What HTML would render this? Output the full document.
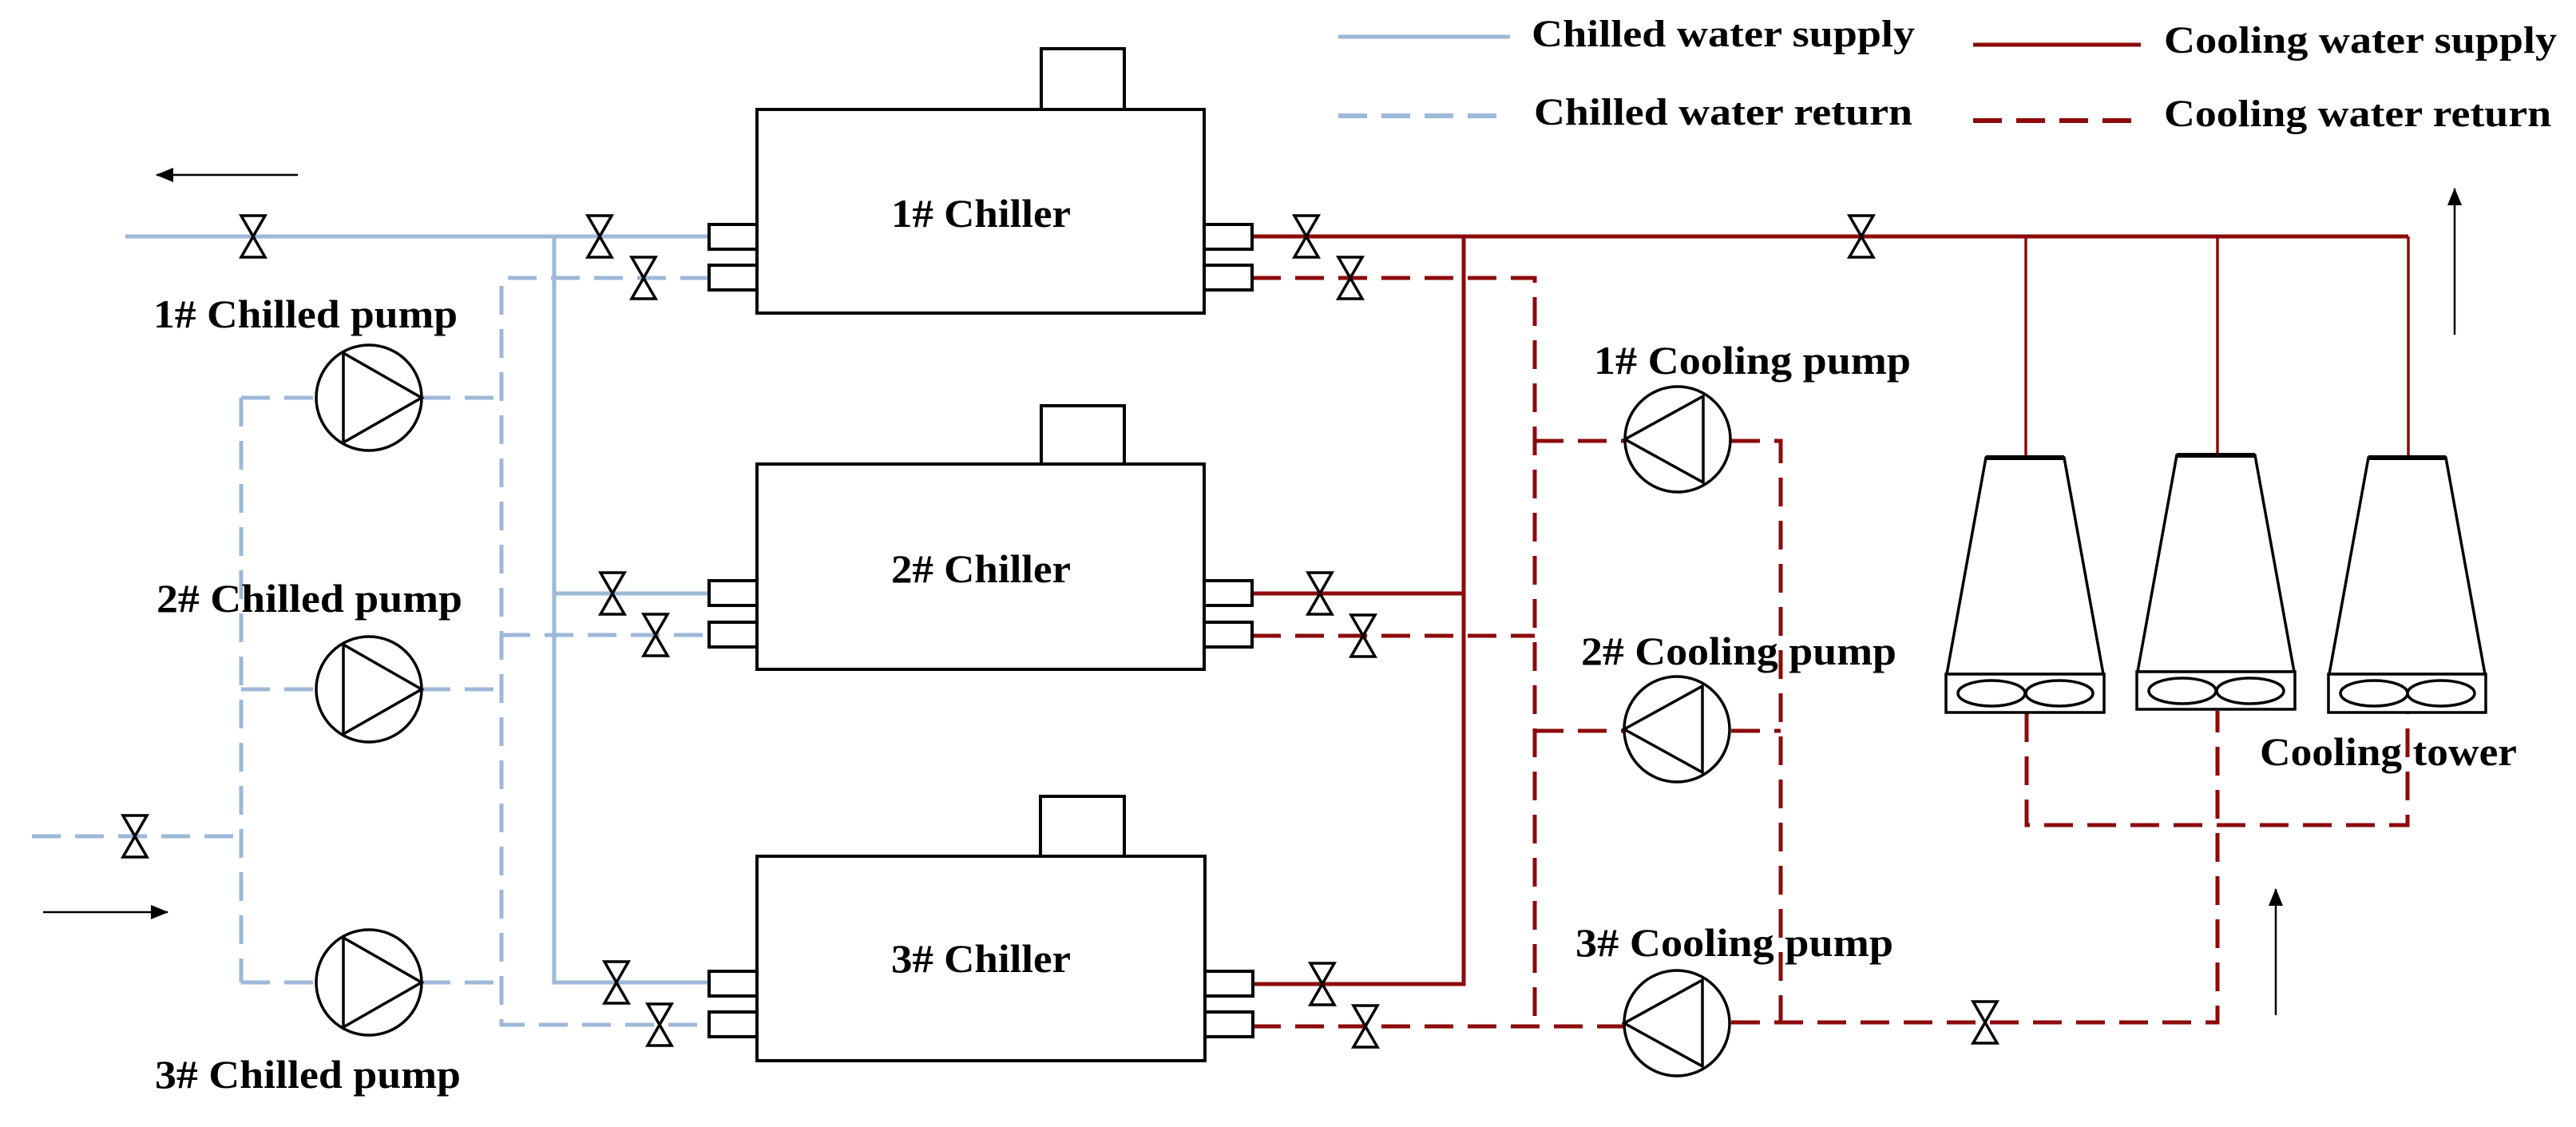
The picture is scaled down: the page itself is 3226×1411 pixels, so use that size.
<!DOCTYPE html>
<html><head><meta charset="utf-8"><style>
html,body{margin:0;padding:0;background:#fff;}
svg{display:block;}
text{font-family:"Liberation Serif",serif;font-weight:bold;fill:#000;}
</style></head><body>
<svg width="3226" height="1411" viewBox="0 0 3226 1411" xmlns="http://www.w3.org/2000/svg">
<defs>
<g id="valve"><path d="M-15,-26 L15,-26 L-15,26 L15,26 Z" fill="#fff" stroke="#000" stroke-width="3.5" stroke-linejoin="miter"/></g>
<marker id="ah" markerWidth="22" markerHeight="18" refX="21" refY="9" orient="auto" markerUnits="userSpaceOnUse"><path d="M0,0 L22,9 L0,18Z" fill="#000"/></marker>
</defs>
<rect width="3226" height="1411" fill="#fff"/>

<!-- Legend -->
<line x1="1676" y1="46" x2="1891" y2="46" stroke="#9db8d8" stroke-width="5"/>
<text x="1918" y="58" font-size="48" textLength="480" lengthAdjust="spacingAndGlyphs">Chilled water supply</text>
<line x1="1676" y1="145" x2="1891" y2="145" stroke="#9db8d8" stroke-width="6" stroke-dasharray="36 18"/>
<text x="1921" y="156" font-size="48" textLength="474" lengthAdjust="spacingAndGlyphs">Chilled water return</text>
<line x1="2471" y1="56" x2="2681" y2="56" stroke="#8c0a0a" stroke-width="5"/>
<text x="2710" y="66" font-size="48" textLength="492" lengthAdjust="spacingAndGlyphs">Cooling water supply</text>
<line x1="2471" y1="151" x2="2681" y2="151" stroke="#8c0a0a" stroke-width="6" stroke-dasharray="36 18"/>
<text x="2710" y="158" font-size="48" textLength="485" lengthAdjust="spacingAndGlyphs">Cooling water return</text>

<!-- Arrows -->
<line x1="373" y1="219" x2="196" y2="219" stroke="#000" stroke-width="2.5" marker-end="url(#ah)"/>
<line x1="54" y1="1142" x2="210" y2="1142" stroke="#000" stroke-width="2.5" marker-end="url(#ah)"/>
<line x1="3074" y1="419" x2="3074" y2="236" stroke="#000" stroke-width="2.5" marker-end="url(#ah)"/>
<line x1="2850" y1="1271" x2="2850" y2="1113" stroke="#000" stroke-width="2.5" marker-end="url(#ah)"/>

<!-- Chilled water supply (solid blue) -->
<g stroke="#9db8d8" stroke-width="5" fill="none">
<line x1="157" y1="296" x2="888" y2="296"/>
<polyline points="694,296 694,1230 888,1230"/>
<line x1="694" y1="743" x2="888" y2="743"/>
</g>
<!-- Chilled water return (dashed blue) -->
<g stroke="#9db8d8" stroke-width="5" fill="none" stroke-dasharray="36 18">
<polyline points="888,348 628,348 628,1283 888,1283"/>
<line x1="628" y1="795" x2="888" y2="795"/>
<line x1="302" y1="498" x2="302" y2="1230"/>
<line x1="302" y1="498" x2="396" y2="498"/><line x1="528" y1="498" x2="628" y2="498"/>
<line x1="302" y1="863" x2="396" y2="863"/><line x1="528" y1="863" x2="628" y2="863"/>
<line x1="302" y1="1230" x2="396" y2="1230"/><line x1="528" y1="1230" x2="628" y2="1230"/>
<line x1="40" y1="1047" x2="302" y2="1047"/>
</g>

<!-- Cooling water supply (solid red) -->
<g stroke="#8c0a0a" stroke-width="5" fill="none">
<line x1="1568" y1="296" x2="3016" y2="296"/>
<polyline points="1833,296 1833,1232 1568,1232"/>
<line x1="1568" y1="743" x2="1833" y2="743"/>
</g>
<g stroke="#8c0a0a" stroke-width="3.5" fill="none">
<line x1="2537" y1="296" x2="2537" y2="573"/>
<line x1="2777" y1="296" x2="2777" y2="570"/>
<line x1="3016" y1="296" x2="3016" y2="573"/>
</g>
<!-- Cooling water return (dashed red) -->
<g stroke="#8c0a0a" stroke-width="5" fill="none" stroke-dasharray="36 18">
<polyline points="1568,348 1922,348 1922,1285"/>
<line x1="1568" y1="796" x2="1922" y2="796"/>
<line x1="1568" y1="1285" x2="2034" y2="1285"/>
<line x1="1922" y1="552" x2="2034" y2="552"/><polyline points="2168,552 2230,552 2230,1280"/>
<line x1="1922" y1="915" x2="2034" y2="915"/><line x1="2168" y1="915" x2="2230" y2="915"/>
<polyline points="2168,1280 2777,1280 2777,890"/>
<polyline points="2538,893 2538,1033 3015,1033 3015,893"/>
</g>

<!-- Chillers -->
<g fill="#fff" stroke="#000" stroke-width="4">
<rect x="1304" y="61" width="104" height="76"/>
<rect x="948" y="137" width="560" height="255"/>
<rect x="888" y="281" width="60" height="31"/><rect x="888" y="332" width="60" height="31"/>
<rect x="1508" y="281" width="60" height="31"/><rect x="1508" y="332" width="60" height="31"/>

<rect x="1304" y="508" width="104" height="73"/>
<rect x="948" y="581" width="560" height="257"/>
<rect x="888" y="727" width="60" height="31"/><rect x="888" y="779" width="60" height="31"/>
<rect x="1508" y="727" width="60" height="31"/><rect x="1508" y="779" width="60" height="31"/>

<rect x="1303" y="997" width="105" height="75"/>
<rect x="948" y="1072" width="561" height="256"/>
<rect x="888" y="1216" width="60" height="31"/><rect x="888" y="1267" width="60" height="31"/>
<rect x="1509" y="1216" width="60" height="31"/><rect x="1509" y="1267" width="60" height="31"/>
</g>
<text x="1116" y="284" font-size="50" textLength="225" lengthAdjust="spacingAndGlyphs">1# Chiller</text>
<text x="1116" y="729" font-size="50" textLength="225" lengthAdjust="spacingAndGlyphs">2# Chiller</text>
<text x="1116" y="1217" font-size="50" textLength="225" lengthAdjust="spacingAndGlyphs">3# Chiller</text>

<!-- Valves -->
<use href="#valve" x="317" y="296"/>
<use href="#valve" x="751" y="296"/>
<use href="#valve" x="806" y="348"/>
<use href="#valve" x="767" y="743"/>
<use href="#valve" x="821" y="795"/>
<use href="#valve" x="772" y="1230"/>
<use href="#valve" x="826" y="1283"/>
<use href="#valve" x="169" y="1047"/>
<use href="#valve" x="1636" y="296"/>
<use href="#valve" x="1691" y="348"/>
<use href="#valve" x="2331" y="296"/>
<use href="#valve" x="1653" y="743"/>
<use href="#valve" x="1707" y="796"/>
<use href="#valve" x="1656" y="1232"/>
<use href="#valve" x="1710" y="1285"/>
<use href="#valve" x="2486" y="1280"/>

<!-- Chilled pumps -->
<g fill="none" stroke="#000" stroke-width="3.5">
<circle cx="462" cy="498" r="66"/><path d="M430,442 L430,554 L528,498 Z"/>
<circle cx="462" cy="863" r="66"/><path d="M430,807 L430,919 L528,863 Z"/>
<circle cx="462" cy="1230" r="66"/><path d="M430,1174 L430,1286 L528,1230 Z"/>
</g>
<text x="192" y="410" font-size="50" textLength="381" lengthAdjust="spacingAndGlyphs">1# Chilled pump</text>
<text x="196" y="766" font-size="50" textLength="383" lengthAdjust="spacingAndGlyphs">2# Chilled pump</text>
<text x="194" y="1362" font-size="50" textLength="383" lengthAdjust="spacingAndGlyphs">3# Chilled pump</text>

<!-- Cooling pumps -->
<g fill="none" stroke="#000" stroke-width="3.5">
<circle cx="2101" cy="550" r="66"/><path d="M2133,496 L2133,604 L2035,550 Z"/>
<circle cx="2100" cy="913" r="66"/><path d="M2132,859 L2132,967 L2034,913 Z"/>
<circle cx="2100" cy="1281" r="66"/><path d="M2132,1227 L2132,1335 L2034,1281 Z"/>
</g>
<text x="1996" y="468" font-size="50" textLength="397" lengthAdjust="spacingAndGlyphs">1# Cooling pump</text>
<text x="1980" y="832" font-size="50" textLength="395" lengthAdjust="spacingAndGlyphs">2# Cooling pump</text>
<text x="1973" y="1197" font-size="50" textLength="398" lengthAdjust="spacingAndGlyphs">3# Cooling pump</text>

<!-- Cooling towers -->
<g fill="#fff" stroke="#000" stroke-width="3.5">
<path d="M2487,573 L2585,573 L2634,844 L2438,844 Z"/>
<rect x="2437" y="844" width="198" height="48"/>
<ellipse cx="2494" cy="868" rx="42" ry="16"/><ellipse cx="2579" cy="868" rx="42" ry="16"/>
<path d="M2726,570 L2824,570 L2873,841 L2677,841 Z"/>
<rect x="2676" y="841" width="198" height="47"/>
<ellipse cx="2733" cy="865" rx="42" ry="16"/><ellipse cx="2818" cy="865" rx="42" ry="16"/>
<path d="M2966,573 L3063,573 L3112,844 L2917,844 Z"/>
<rect x="2916" y="844" width="197" height="48"/>
<ellipse cx="2973" cy="868" rx="42" ry="16"/><ellipse cx="3057" cy="868" rx="42" ry="16"/>
</g>
<g stroke="#000" stroke-width="6">
<line x1="2487" y1="573" x2="2585" y2="573"/>
<line x1="2726" y1="570" x2="2824" y2="570"/>
<line x1="2966" y1="573" x2="3063" y2="573"/>
</g>
<text x="2830" y="958" font-size="50" textLength="322" lengthAdjust="spacingAndGlyphs">Cooling tower</text>
</svg>
</body></html>
